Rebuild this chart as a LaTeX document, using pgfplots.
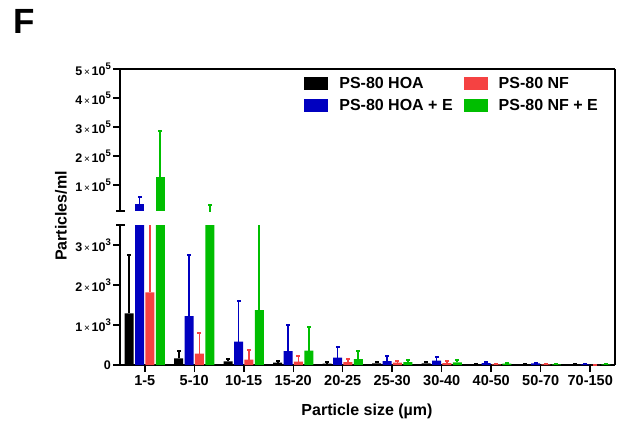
\documentclass[border=0pt]{standalone}
\usepackage{fontspec}
\setmainfont{Liberation Sans}
\usepackage{pgfplots}
\usepackage{pgfplotstable}
\pgfplotsset{compat=1.18}
\definecolor{cBlue}{RGB}{0,0,192}
\definecolor{cRed}{RGB}{245,66,66}
\definecolor{cGreen}{RGB}{0,190,0}

% x = category index, y = mean, e = upper error
\pgfplotstableread{
x y e
0 1290 1460
1 167 183
2 90 70
3 58 50
4 33 42
5 42 25
6 42 25
7 17 16
8 17 8
9 8 4
}\hoa
\pgfplotstableread{
x y e
0 34000 25000
1 1225 1525
2 583 1017
3 350 642
4 183 272
5 100 133
6 108 100
7 50 17
8 42 16
9 17 3
}\hoae
\pgfplotstableread{
x y e
0 1815 4185
1 283 525
2 133 242
3 83 142
4 75 83
5 58 34
6 50 50
7 17 0
8 17 0
9 5 0
}\nf
\pgfplotstableread{
x y e
0 128000 158000
1 7000 24000
2 1375 4625
3 358 584
4 150 205
5 75 58
6 67 50
7 33 9
8 17 0
9 17 0
}\nfe

\newcommand{\sci}[2]{#1{\mdseries\fontsize{10}{10}\selectfont\,×\,}10\raisebox{0.5em}{\fontsize{9.5}{10}\selectfont #2}}

\pgfplotsset{
 brk/.style={
  scale only axis, width=495pt, xmin=-0.5, xmax=9.5,
  axis line style={line width=1.5pt,-},
  tick style={line width=1.5pt,black},
  major tick length=7pt, tick align=outside,
  scaled y ticks=false,
  yticklabel style={font=\bfseries\fontsize{12.5}{14}\selectfont, inner sep=2pt},
  xticklabel style={font=\bfseries\fontsize{14.5}{16}\selectfont},
 },
 errs/.style={color=#1,
  error bars/y dir=plus, error bars/y explicit,
  error bars/draw error bar/.code 2 args={%
    \draw[draw=#1, line width=1.7pt] ##1 -- ##2 node[pos=1, sloped, allow upside down,
      inner sep=0pt, minimum width=2.2pt, minimum height=4pt, fill=#1, draw=none] {};}},
 serie/.style={ybar, bar width=0.18, bar shift=0, errs=#1, fill=#1, draw=none},
}

\begin{document}
\begin{tikzpicture}[x=1pt,y=1pt]
\useasboundingbox (0,0) rectangle (622,-423);

% lower part of broken axis
\begin{axis}[brk, name=lower, at={(120pt,-365pt)}, anchor=south west, height=140pt,
  ymin=0, ymax=3500,
  axis x line*=bottom, axis y line*=left,
  xtick={0,...,9},
  xticklabels={1-5,5-10,10-15,15-20,20-25,25-30,30-40,40-50,50-70,70-150},
  ytick={0,1000,2000,3000},
  yticklabels={0,\sci{1}{3},\sci{2}{3},\sci{3}{3}},
]
\addplot[serie=black] table[x expr=\thisrow{x}-0.315,y=y,y error=e]{\hoa};
\addplot[serie=cBlue] table[x expr=\thisrow{x}-0.105,y=y,y error=e]{\hoae};
\addplot[serie=cRed] table[x expr=\thisrow{x}+0.105,y=y,y error=e]{\nf};
\addplot[serie=cGreen] table[x expr=\thisrow{x}+0.315,y=y,y error=e]{\nfe};
\end{axis}

% upper part of broken axis
\begin{axis}[brk, name=upper, at={(120pt,-211pt)}, anchor=south west, height=142pt,
  ymin=10000, ymax=500000,
  axis x line*=top, axis y line*=left,
  xtick=\empty,
  ytick={100000,200000,300000,400000,500000},
  yticklabels={\sci{1}{5},\sci{2}{5},\sci{3}{5},\sci{4}{5},\sci{5}{5}},
  unbounded coords=discard,
  legend columns=2,
  legend cell align=left,
  legend image code/.code={\fill[#1] (0pt,-6.5pt) rectangle (24pt,6.5pt);},
  legend style={draw=none, fill=none, at={(0.372,0.955)}, anchor=north west,
    inner sep=0pt, font=\bfseries\fontsize{16}{18}\selectfont, row sep=5pt,
    /tikz/every odd column/.append style={column sep=9pt},
    /tikz/every even column/.append style={column sep=9pt}},
]
\addlegendimage{fill=black, draw=none}
\addlegendentry{PS-80 HOA}
\addlegendimage{fill=cRed, draw=none}
\addlegendentry{PS-80 NF}
\addlegendimage{fill=cBlue, draw=none}
\addlegendentry{PS-80 HOA + E}
\addlegendimage{fill=cGreen, draw=none}
\addlegendentry{PS-80 NF + E}
\addplot[forget plot, serie=cBlue, y filter/.expression={y<10000 ? nan : y}] table[x expr=\thisrow{x}-0.105,y=y,y error=e]{\hoae};
\addplot[forget plot, serie=cGreen, y filter/.expression={y<10000 ? nan : y}] table[x expr=\thisrow{x}+0.315,y=y,y error=e]{\nfe};
% whisker of the 5-10 NF + E bar, whose mean lies below this panel
\addplot[forget plot, errs=cGreen, draw=none, mark=none] coordinates {(1.315,7000) +- (0,24000)};
\end{axis}

% right frame line and break marks
\draw[line width=1.5pt] (upper.north east) -- (lower.south east);
\draw[line width=1.5pt] ([xshift=-4pt]upper.south west) -- ([xshift=5pt]upper.south west);
\draw[line width=1.5pt] ([xshift=-4pt]lower.north west) -- ([xshift=5pt]lower.north west);

\node[font=\bfseries\fontsize{16}{18}\selectfont, rotate=90] at (61,-216) {Particles/ml};
\node[font=\bfseries\fontsize{16}{18}\selectfont] at (367,-411) {Particle size (µm)};
\node[font=\bfseries\fontsize{35}{38}\selectfont, anchor=base west] at (10,-33) {F};
\end{tikzpicture}
\end{document}
